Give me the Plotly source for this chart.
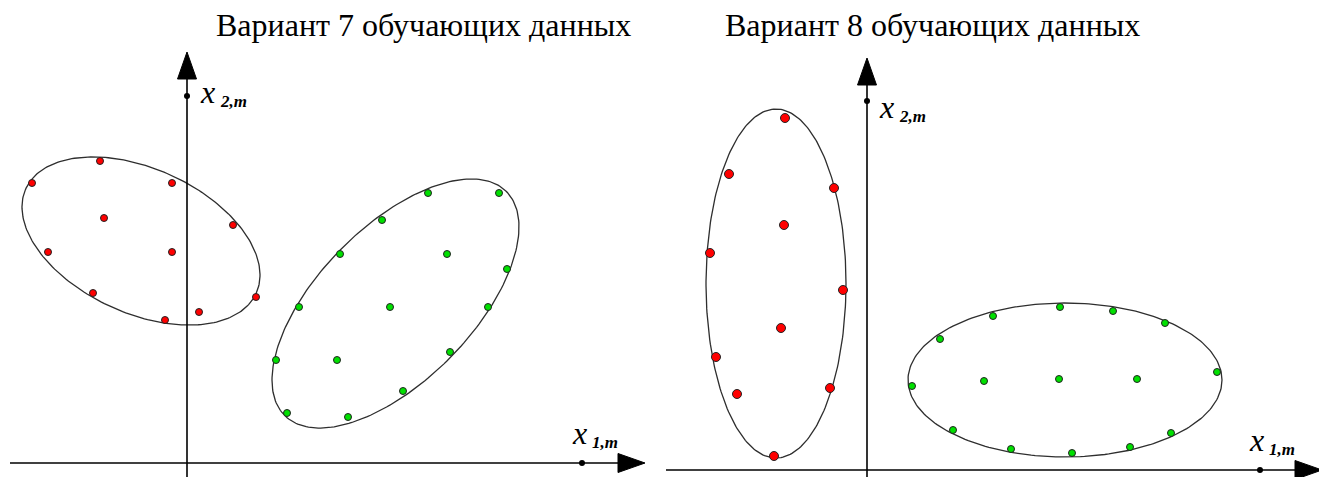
import plotly.graph_objects as go
import numpy as np

# Вариант 7: точки обучающих данных (класс 1 - красный, класс 2 - зелёный)
red7_x = [-8.7, -15.5, -1.5, -8.3, 4.6, -13.9, -1.5, -9.4, 6.9, 1.2, -2.2]
red7_y = [30.2, 28.0, 28.0, 24.5, 23.8, 21.1, 21.1, 17.0, 16.6, 15.1, 14.3]
green7_x = [24.1, 31.2, 19.5, 15.3, 26.0, 32.0, 11.2, 20.3, 30.1, 8.9, 15.0, 26.3, 21.6, 10.0, 16.1]
green7_y = [27.0, 27.0, 24.3, 20.9, 20.9, 19.4, 15.6, 15.6, 15.6, 10.3, 10.3, 11.1, 7.2, 5.0, 4.6]

# Вариант 8
red8_x = [-8.2, -13.8, -3.3, -8.3, -15.7, -2.4, -8.6, -15.1, -3.7, -13.0, -9.3]
red8_y = [35.2, 29.6, 28.2, 24.5, 21.7, 18.0, 14.2, 11.3, 8.2, 7.6, 1.4]
green8_x = [19.3, 12.6, 24.6, 7.3, 29.8, 4.5, 11.7, 19.2, 27.0, 35.0, 8.6, 14.4, 20.5, 26.3, 30.4]
green8_y = [16.3, 15.4, 15.9, 13.1, 14.7, 8.4, 8.9, 9.1, 9.1, 9.8, 4.0, 2.1, 1.7, 2.3, 3.7]

# Эллипсы: центр x, центр y, полуось a, полуось b, угол (град)
ell7_red = [-4.6, 22.2, 12.65, 7.23, -24.4]
ell7_green = [20.85, 15.95, 15.76, 7.7, 45.4]
ell8_red = [-9.1, 18.65, 7.0, 17.45, 0.0]
ell8_green = [19.8, 9.0, 15.7, 7.7, 0.0]

titles = ["Вариант 7 обучающих данных", "Вариант 8 обучающих данных"]

RED = "#ff0000"
GREEN = "#00e000"


def ellipse(cx, cy, a, b, ang, n=240):
    t = np.linspace(0, 2 * np.pi, n)
    th = np.radians(ang)
    x = cx + a * np.cos(t) * np.cos(th) - b * np.sin(t) * np.sin(th)
    y = cy + a * np.cos(t) * np.sin(th) + b * np.sin(t) * np.cos(th)
    return x, y


fig = go.Figure()

panels = [
    ("x", "y", ell7_red, ell7_green, red7_x, red7_y, green7_x, green7_y, 7, 7),
    ("x2", "y2", ell8_red, ell8_green, red8_x, red8_y, green8_x, green8_y, 9, 7),
]

for xr, yr, er, eg, rx, ry, gx, gy, rs, gs in panels:
    for e in (er, eg):
        ex, ey = ellipse(*e)
        fig.add_trace(go.Scatter(x=ex, y=ey, mode="lines", xaxis=xr, yaxis=yr,
                                 line=dict(color="#2e2e2e", width=1.3),
                                 hoverinfo="skip", showlegend=False))
    fig.add_trace(go.Scatter(x=rx, y=ry, mode="markers", xaxis=xr, yaxis=yr,
                             marker=dict(color=RED, size=rs, line=dict(color="#222", width=1)),
                             showlegend=False))
    fig.add_trace(go.Scatter(x=gx, y=gy, mode="markers", xaxis=xr, yaxis=yr,
                             marker=dict(color=GREEN, size=gs, line=dict(color="#222", width=1)),
                             showlegend=False))

# Оси со стрелками: начало, конец (остриё) по x и по y, положение точек-меток
axes_geom = [
    # xref, yref, x_start, x_tip, y_start, y_tip, dot_x, dot_y
    ("x", "y", -17.7, 45.8, -1.6, 41.1, 39.5, 36.7),
    ("x2", "y2", -20.1, 45.5, -0.9, 41.2, 39.3, 36.9),
]
head_len, head_w = 2.7, 0.95

shapes = []
for xr, yr, x0, xt, y0, yt, dx, dy in axes_geom:
    line = dict(color="black", width=1.6)
    shapes.append(dict(type="line", xref=xr, yref=yr, x0=x0, y0=0, x1=xt - head_len, y1=0, line=line))
    shapes.append(dict(type="line", xref=xr, yref=yr, x0=0, y0=y0, x1=0, y1=yt - head_len, line=line))
    shapes.append(dict(type="path", xref=xr, yref=yr,
                       path=f"M{xt - head_len},{-head_w} L{xt},0 L{xt - head_len},{head_w} Z",
                       fillcolor="black", line=dict(color="black", width=1)))
    shapes.append(dict(type="path", xref=xr, yref=yr,
                       path=f"M{-head_w},{yt - head_len} L0,{yt} L{head_w},{yt - head_len} Z",
                       fillcolor="black", line=dict(color="black", width=1)))
    fig.add_trace(go.Scatter(x=[dx, 0], y=[0, dy], mode="markers", xaxis=xr, yaxis=yr,
                             marker=dict(color="black", size=6), hoverinfo="skip",
                             showlegend=False))

# Подписи осей
serif = "Liberation Serif"
annotations = []
label_pos = [
    # xref, yref, (x, y) для x1, (x, y) для x2
    ("x", "y", (38.3, 3.0), (1.1, 37.1)),
    ("x2", "y2", (38.0, 3.0), (1.0, 36.3)),
]
for xr, yr, p1, p2 in label_pos:
    for (px, py), sub in ((p1, "1,m"), (p2, "2,m")):
        annotations.append(dict(xref=xr, yref=yr, x=px, y=py, text="<i>x</i>",
                                showarrow=False, xanchor="left", yanchor="middle",
                                font=dict(family=serif, size=32, color="black")))
        annotations.append(dict(xref=xr, yref=yr, x=px + 2.0, y=py - 0.9,
                                text=f"<b><i>{sub}</i></b>",
                                showarrow=False, xanchor="left", yanchor="middle",
                                font=dict(family=serif, size=17, color="black")))

for tx, t in zip([423 / 1319, 932 / 1319], titles):
    annotations.append(dict(xref="paper", yref="paper", x=tx, y=1 - 25 / 477, text=t,
                            showarrow=False, xanchor="center", yanchor="middle",
                            font=dict(family=serif, size=32, color="black")))

hidden = dict(visible=False, showgrid=False, zeroline=False, fixedrange=True)
fig.update_layout(
    width=1319, height=477,
    margin=dict(l=0, r=0, t=0, b=0),
    paper_bgcolor="white", plot_bgcolor="white",
    xaxis=dict(domain=[0, 660 / 1319], range=[-18.7, 47.3], **hidden),
    yaxis=dict(domain=[0, 1], range=[-1.4, 46.3], anchor="x", **hidden),
    xaxis2=dict(domain=[660 / 1319, 1], range=[-20.7, 45.2], anchor="y2", **hidden),
    yaxis2=dict(domain=[0, 1], range=[-0.7, 47.0], anchor="x2", **hidden),
    shapes=shapes,
    annotations=annotations,
)

# убираем стандартный отступ страницы, чтобы рисунок лёг ровно в окно
fig.write_html("out.html", config={"displayModeBar": False},
               post_script="document.body.style.margin='0';document.body.style.overflow='hidden';")
